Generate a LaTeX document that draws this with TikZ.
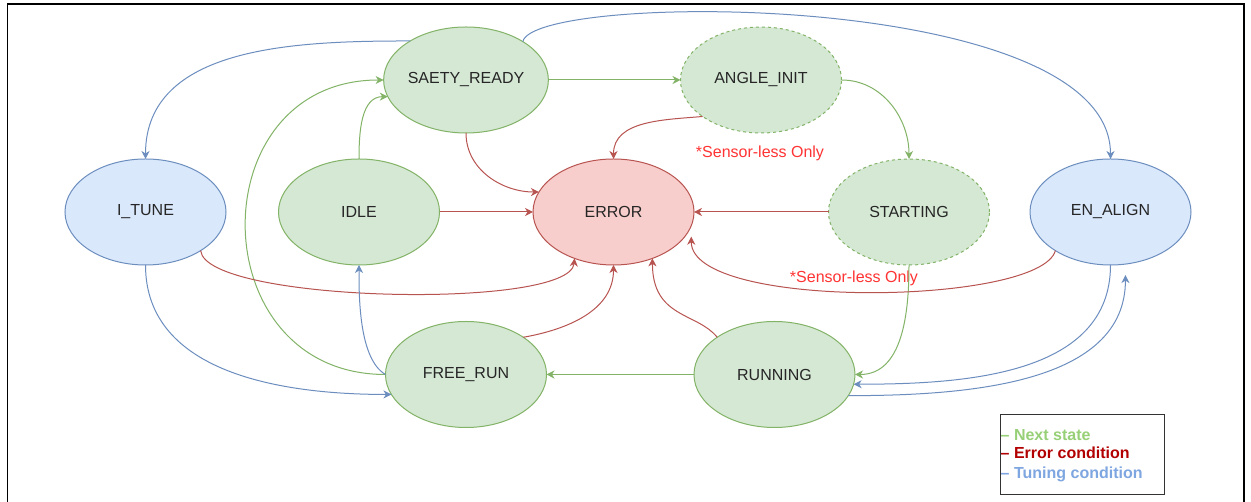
\documentclass[tikz,border=0pt]{standalone}
\usepackage{fontspec}
\setmainfont{Liberation Sans}
\usetikzlibrary{shapes.geometric,arrows.meta}

\definecolor{gfill}{HTML}{D5E8D4}
\definecolor{gline}{HTML}{82B366}
\definecolor{rfill}{HTML}{F8CECC}
\definecolor{rline}{HTML}{B85450}
\definecolor{bfill}{HTML}{DAE8FC}
\definecolor{bline}{HTML}{6C8EBF}
\definecolor{sensred}{HTML}{FF3333}
\definecolor{keygreen}{HTML}{97D077}
\definecolor{keyred}{HTML}{B20000}
\definecolor{keyblue}{HTML}{7EA6E0}

\tikzset{
    state/.style={ellipse, draw=gline, fill=gfill, line width=1pt,
        minimum width=161pt, minimum height=106pt, inner sep=0pt, outer sep=0pt,
        text=black!85, font=\fontsize{16}{19}\selectfont},
    optstate/.style={state, dash pattern=on 3pt off 3pt},
    errstate/.style={state, draw=rline, fill=rfill},
    tunestate/.style={state, draw=bline, fill=bfill},
    next/.style={->, draw=gline, line width=1pt},
    err/.style={->, draw=rline, line width=1pt},
    tune/.style={->, draw=bline, line width=1pt},
    note/.style={text=sensred, inner sep=0pt, font=\fontsize{16}{19}\selectfont},
    keytext/.style={anchor=base west, inner sep=0pt, font=\fontsize{16}{19}\selectfont\bfseries}
}

\begin{document}
\begin{tikzpicture}[x=1pt, y=1pt, >={Stealth[length=8pt,width=8pt,inset=2.5pt]}]
        \clip (0,0) rectangle (1251,502);
        \fill[white] (0,0) rectangle (1251,502);

        % frame, open at the bottom
        \draw[black, line width=1.6pt] (7.5,-10) -- (7.5,498) -- (1244,498) -- (1244,-10);

        \node[state] (SR) at (466,422) {SAETY\_READY};
        \node[optstate] (AI) at (761,422) {ANGLE\_INIT};
        \node[tunestate] (IT) at (145.5,290) {I\_TUNE};
        \node[state] (IDLE) at (359,290) {IDLE};
        \node[errstate] (ERR) at (613.5,290) {ERROR};
        \node[optstate] (ST) at (909,290) {STARTING};
        \node[tunestate] (EA) at (1110.5,290) {EN\_ALIGN};
        \node[state] (FR) at (466,127.5) {FREE\_RUN};
        \node[state] (RUN) at (774.5,127.5) {RUNNING};

        \node[note] (noteAI) at (760,349) {*Sensor-less Only};
        \node[note] (noteEA) at (854,224) {*Sensor-less Only};

        \draw[next] (SR.east) -- (AI.west);
        \draw[next] (AI.east) to[out=0,in=90] (ST.north);
        \draw[next] (IDLE.north) to[out=90,in=180] (SR.192);
        \draw[next] (FR.west) .. controls +(-185,0) and +(-185,0) .. (SR.west);
        \draw[next] (ST.south) to[out=-90,in=0] (RUN.east);
        \draw[next] (RUN.west) -- (FR.east);

        \draw[err] (SR.south) to[out=-90,in=180] (ERR.165);
        \draw[err] (AI.212) to[out=185,in=90] (ERR.north);
        \draw[err] (IDLE.east) -- (ERR.west);
        \draw[err] (ST.west) -- (ERR.east);
        \draw[err] (IT.-35) .. controls +(5,-52) and +(-5,-52) .. (ERR.230);
        \draw[err] (FR.33) to[out=10,in=-90] (ERR.south);
        \draw[err] (RUN.147) .. controls +(-20,25) and +(0,-60) .. (ERR.-50);
        \draw[err, shorten >=11pt] (EA.215) .. controls +(-15,-55) and +(0,-85) .. (ERR.-10);

        \draw[tune] (SR.145) to[out=180,in=90] (IT.north);
        \draw[tune] (SR.34) .. controls +(10,50) and +(0,170) .. (EA.north);
        \draw[tune] (FR.west) to[out=150,in=-90,looseness=0.7] (IDLE.south);
        \draw[tune] (IT.south) to[out=-90,in=180] (FR.195);
        \draw[tune] (EA.south) to[out=-90,in=0] (RUN.-7);
        \draw[tune, shorten >=11pt] (RUN.344) to[out=0,in=-90] (EA.286);

        % legend
        \draw[black!80, line width=1pt] (1000.5,7) rectangle (1164,87.3);
        \node[keytext, text=keygreen] (keyNext) at (1000.5,61.3) {\textendash\ Next state};
        \node[keytext, text=keyred] (keyErr) at (1000.5,43) {\textendash\ Error condition};
        \node[keytext, text=keyblue] (keyTune) at (1000.5,23) {\textendash\ Tuning condition};
\end{tikzpicture}
\end{document}
